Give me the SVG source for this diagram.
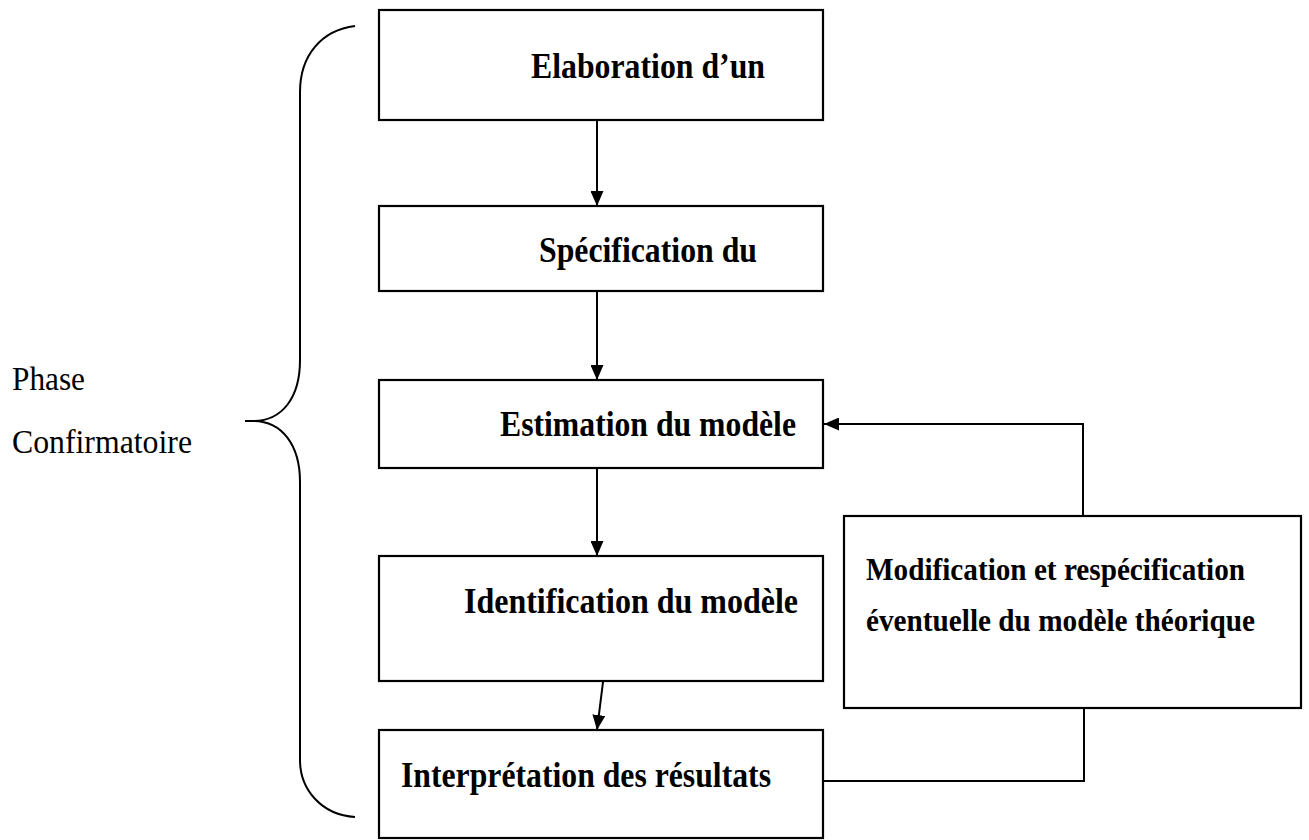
<svg xmlns="http://www.w3.org/2000/svg" width="1309" height="840" viewBox="0 0 1309 840">
<defs>
<style>
.box{fill:#fff;stroke:#000;stroke-width:2.2}
.con{fill:none;stroke:#000;stroke-width:2}
.lbl{font-family:"Liberation Serif","Times New Roman",serif;font-weight:bold;font-size:35px;fill:#000}
.lbl2{font-family:"Liberation Serif","Times New Roman",serif;font-weight:bold;font-size:31px;fill:#000}
.side{font-family:"Liberation Serif","Times New Roman",serif;font-size:33px;fill:#000}
</style>
<marker id="ah" viewBox="0 0 15 13" refX="15" refY="6.5" markerWidth="15" markerHeight="13" markerUnits="userSpaceOnUse" orient="auto">
<path d="M0,0 L15,6.5 L0,13 Z" fill="#000"/>
</marker>
</defs>
<rect width="1309" height="840" fill="#fff"/>

<g id="bracket">
<path class="con" d="M355,26 C322,30 300,55 300,92 L300,360 C300,398 282,421 253,421 L245,421 L253,421 C282,421 300,445 300,482 L300,760 C300,790 322,815 355,817"/>
</g>
<g id="phase">
<text class="side" x="12" y="390" textLength="73" lengthAdjust="spacingAndGlyphs">Phase</text>
<text class="side" x="12" y="453" textLength="180" lengthAdjust="spacingAndGlyphs">Confirmatoire</text>
</g>

<g id="n1">
<rect class="box" x="379" y="10" width="444" height="110"/>
<text class="lbl" x="531" y="78" textLength="234" lengthAdjust="spacingAndGlyphs">Elaboration d’un</text>
</g>
<g id="n2">
<rect class="box" x="379" y="206" width="444" height="85"/>
<text class="lbl" x="539" y="262" textLength="218" lengthAdjust="spacingAndGlyphs">Spécification du</text>
</g>
<g id="n3">
<rect class="box" x="379" y="380" width="444" height="88"/>
<text class="lbl" x="500" y="436" textLength="296" lengthAdjust="spacingAndGlyphs">Estimation du modèle</text>
</g>
<g id="n4">
<rect class="box" x="379" y="556" width="444" height="125"/>
<text class="lbl" x="464" y="613" textLength="334" lengthAdjust="spacingAndGlyphs">Identification du modèle</text>
</g>
<g id="n5">
<rect class="box" x="379" y="730" width="444" height="108"/>
<text class="lbl" x="401" y="787" textLength="370" lengthAdjust="spacingAndGlyphs">Interprétation des résultats</text>
</g>
<g id="n6">
<rect class="box" x="844" y="516" width="457" height="192"/>
<text class="lbl2" x="866" y="580" textLength="379" lengthAdjust="spacingAndGlyphs">Modification et respécification</text>
<text class="lbl2" x="866" y="631" textLength="389" lengthAdjust="spacingAndGlyphs">éventuelle du modèle théorique</text>
</g>

<g id="connectors">
<line class="con" x1="597" y1="121" x2="597" y2="206" marker-end="url(#ah)"/>
<line class="con" x1="597" y1="292" x2="597" y2="380" marker-end="url(#ah)"/>
<line class="con" x1="597" y1="469" x2="597" y2="556" marker-end="url(#ah)"/>
<line class="con" x1="603" y1="682" x2="597" y2="730" marker-end="url(#ah)"/>
<polyline class="con" points="1083,516 1083,424 824,424" marker-end="url(#ah)"/>
<polyline class="con" points="824,781 1084,781 1084,708"/>
</g>
</svg>
